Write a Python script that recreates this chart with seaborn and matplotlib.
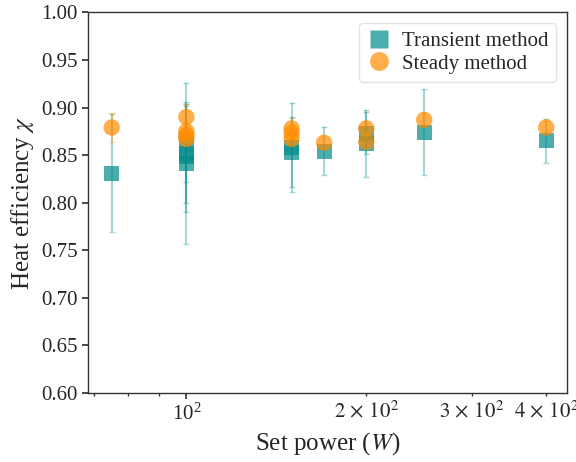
import numpy as np
import pandas as pd
import matplotlib
matplotlib.use("Agg")
import matplotlib.pyplot as plt
from matplotlib import ticker
import seaborn as sns

# Transient method measurements
transient_power = [75, 100, 100, 100, 100, 150, 150, 170, 200, 200, 250, 400]
transient_eff = [0.831, 0.841, 0.848, 0.852, 0.862, 0.853, 0.858, 0.854, 0.862, 0.873, 0.874, 0.865]
transient_err = [0.062, 0.085, 0.058, 0.052, 0.040, 0.037, 0.047, 0.025, 0.035, 0.022, 0.045, 0.023]

# Steady method measurements
steady_power = [75, 100, 100, 100, 100, 150, 150, 150, 170, 200, 200, 250, 400]
steady_eff = [0.879, 0.890, 0.875, 0.871, 0.867, 0.878, 0.873, 0.867, 0.863, 0.878, 0.864, 0.887, 0.879]
steady_err = [0.015, 0.014, 0.010, 0.010, 0.008, 0.011, 0.010, 0.008, 0.006, 0.008, 0.006, 0.007, 0.007]

labels = ["Transient method", "Steady method"]
colors = {"Transient method": "#008b8b", "Steady method": "#ff8c00"}
markers = {"Transient method": "s", "Steady method": "o"}
sizes = {"Transient method": 115, "Steady method": 140}

df = pd.concat([
    pd.DataFrame({"power": transient_power, "eff": transient_eff,
                  "err": transient_err, "method": labels[0]}),
    pd.DataFrame({"power": steady_power, "eff": steady_eff,
                  "err": steady_err, "method": labels[1]}),
], ignore_index=True)

sns.set_theme(style="ticks")
plt.rcParams["font.family"] = ["Liberation Serif", "DejaVu Serif"]
plt.rcParams["mathtext.fontset"] = "stix"

fig, ax = plt.subplots(figsize=(5.76, 4.62), dpi=100)
fig.subplots_adjust(left=0.153, right=0.984, top=0.973, bottom=0.15)

for name in labels:
    sub = df[df["method"] == name]
    ax.errorbar(sub["power"], sub["eff"], yerr=sub["err"], fmt="none",
                ecolor=colors[name], elinewidth=1.5, capsize=2,
                alpha=0.35, zorder=2)

sns.scatterplot(data=df, x="power", y="eff", hue="method", style="method",
                size="method", palette=colors, markers=markers, sizes=sizes,
                alpha=0.7, edgecolor="none", ax=ax, zorder=3)

ax.set_xscale("log")
ax.set_xlim(68.5, 433)
ax.set_ylim(0.60, 1.00)
ax.set_yticks(np.arange(0.60, 1.001, 0.05))
ax.yaxis.set_major_formatter(ticker.FormatStrFormatter("%.2f"))


def minor_label(v, pos):
    exp = int(np.floor(np.log10(v) + 1e-9))
    mant = int(round(v / 10 ** exp))
    if exp == 2 and mant in (2, 3, 4):
        return r"$%d\,\times\,10^{%d}$" % (mant, exp)
    return ""


ax.xaxis.set_minor_formatter(ticker.FuncFormatter(minor_label))

ax.set_xlabel("Set power ($W$)", fontsize=18)
ax.set_ylabel("Heat efficiency $\\chi$", fontsize=18)
ax.tick_params(axis="both", which="both", labelsize=15, color="#333333")
ax.tick_params(axis="both", which="major", length=4)
ax.tick_params(axis="x", which="minor", length=2.5)
for sp in ax.spines.values():
    sp.set_color("#333333")
    sp.set_linewidth(1.0)

leg = ax.legend(loc="upper right", fontsize=15, frameon=True,
                handlelength=1.1, handletextpad=0.55, borderpad=0.4,
                labelspacing=0.15, markerscale=1.15)
leg.get_frame().set_edgecolor("#dddddd")

fig.savefig("out.png", dpi=100)
